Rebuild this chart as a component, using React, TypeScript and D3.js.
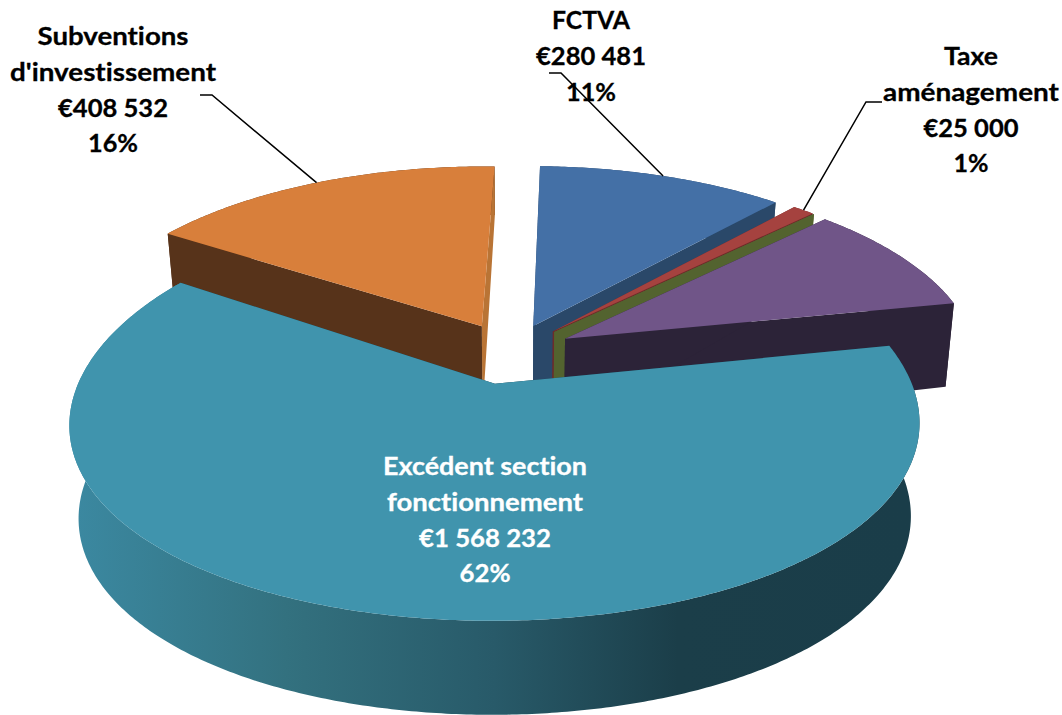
import React from 'react'
import * as d3 from 'd3'

const categories = ['FCTVA', 'Taxe aménagement', 'Autre', 'Divers', 'Excédent section fonctionnement', "Subventions d'investissement"]
const values = [280481, 25000, 0, 235000, 1568232, 408532]
const explodes = [0.15, 0.15, 0.15, 0.15, 0.165, 0.155]
const topColors = ['#4470A6', '#A5423F', '#83A040', '#705588', '#4094AD', '#D87F3B']
const wallColors = ['#2A4869', '#6E2B2A', '#53632F', '#2C2338', '#1A3D49', '#57331A']
const orangeEastWall = '#B97435'
const paintOrder = [0, 5, 1, 2, 3, 4]

const wallStops = [
  [0.0, '#3B88A0'],
  [0.25, '#33717F'],
  [0.5, '#285A69'],
  [0.72, '#1B3E49'],
  [1.0, '#1A3D49'],
]

const labels = [
  { lines: ['Subventions', "d'investissement", '€408 532', '16%'], widths: [151, 206, 110, 50], x: 113, y: 45, fill: '#000' },
  { lines: ['FCTVA', '€280 481', '11%'], widths: [78, 110, 50], x: 591, y: 29, fill: '#000' },
  { lines: ['Taxe', 'aménagement', '€25 000', '1%'], widths: [54, 176, 95, 35], x: 971, y: 65, fill: '#000' },
  { lines: ['Excédent section', 'fonctionnement', '€1 568 232', '62%'], widths: [204, 196, 132, 51], x: 485, y: 475, fill: '#fff' },
]

// slice index, knee start, knee end
const leaders = [
  { slice: 5, from: [200, 95], knee: [212, 95] },
  { slice: 0, from: [549, 73], knee: [561, 73] },
  { slice: 1, from: [882, 102], knee: [866, 102] },
]

const width = 1062
const height = 715
const cy = 352
const ry = 191
const depth = 94
const depthFar = 40
const tiltY = 0.15
const depthK = 0.02
const firstAngle = (1.5 * Math.PI) / 180

// the big slice sits nearer the camera and needs its own horizontal fit
const farLens = { cx: 511, rx: 412, tilt: 0.135 }
const nearLens = { cx: 508, rx: 404, tilt: 0.19 }
const nearSlice = 4

// plane coords -> screen, y away from viewer, z down
function project(lens: typeof farLens, x: number, y: number, z: number): [number, number] {
  const px = 1 / (1 + lens.tilt * y + depthK * z)
  const py = 1 / (1 + tiltY * y)
  return [lens.cx + lens.rx * x * px, cy - ry * y * py + (depth - depthFar * Math.max(0, y)) * z]
}

const pieGen = d3
  .pie<number>()
  .sort(null)
  .startAngle(firstAngle)
  .endAngle(firstAngle + Math.PI * 2)
const arcs = pieGen(values)

const line = d3.line()

function sliceGeom(i: number) {
  const a = arcs[i]
  const lens = i === nearSlice ? nearLens : farLens
  const mid = (a.startAngle + a.endAngle) / 2
  const ox = explodes[i] * Math.sin(mid)
  const oy = explodes[i] * Math.cos(mid)
  const rim = (t: number, z: number) => project(lens, ox + Math.sin(t), oy + Math.cos(t), z)
  const apex = (z: number) => project(lens, ox, oy, z)
  const steps = Math.max(2, Math.ceil((a.endAngle - a.startAngle) / 0.01))
  const ts = d3.range(steps + 1).map(k => a.startAngle + ((a.endAngle - a.startAngle) * k) / steps)
  const top = line([apex(0), ...ts.map(t => rim(t, 0))]) + 'Z'
  const outer = line([...ts.map(t => rim(t, 0)), ...ts.slice().reverse().map(t => rim(t, 1))]) + 'Z'
  const west = line([apex(0), rim(a.startAngle, 0), rim(a.startAngle, 1), apex(1)]) + 'Z'
  const east = line([apex(0), rim(a.endAngle, 0), rim(a.endAngle, 1), apex(1)]) + 'Z'
  return { top, outer, west, east, anchor: rim(mid, 0) }
}

export default function App() {
  const font = 'Lato, Carlito, Calibri, sans-serif'
  return (
    <svg
      width={width}
      height={height}
      style={{ position: 'absolute', left: 0, top: 0, display: 'block', background: '#fff' }}
    >
      <defs>
        <linearGradient id="tealWall" gradientUnits="userSpaceOnUse" x1={78} x2={911} y1={0} y2={0}>
          {wallStops.map(([o, c]) => (
            <stop key={o as number} offset={o as number} stopColor={c as string} />
          ))}
        </linearGradient>
      </defs>
      {paintOrder.map(i => {
        const g = sliceGeom(i)
        return (
          <g key={categories[i]}>
            <path d={g.outer} fill={i === nearSlice ? 'url(#tealWall)' : wallColors[i]} />
            <path d={g.east} fill={i === 5 ? orangeEastWall : wallColors[i]} />
            <path d={g.west} fill={wallColors[i]} />
            <path d={g.top} fill={topColors[i]} />
          </g>
        )
      })}
      {leaders.map(l => {
        const g = sliceGeom(l.slice)
        return (
          <path
            key={l.slice}
            d={line([l.from as [number, number], l.knee as [number, number], g.anchor]) as string}
            fill="none"
            stroke="#000"
            strokeWidth={1.5}
          />
        )
      })}
      {labels.map(l =>
        l.lines.map((s, k) => (
          <text
            key={s}
            x={l.x}
            y={l.y + k * 35.8}
            textAnchor="middle"
            textLength={l.widths[k]}
            lengthAdjust="spacingAndGlyphs"
            fontFamily={font}
            fontWeight={700}
            fontSize={25}
            fill={l.fill}
            stroke={l.fill}
            strokeWidth={0.3}
            style={{ fontVariantLigatures: 'none' }}
          >
            {s}
          </text>
        ))
      )}
    </svg>
  )
}
